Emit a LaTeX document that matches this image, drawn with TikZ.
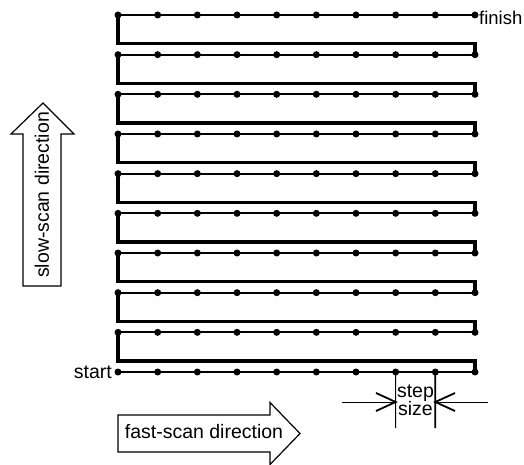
\documentclass[tikz,border=0pt]{standalone}
\usepackage{fontspec}
\setmainfont{Liberation Sans}
\begin{document}
\begin{tikzpicture}[x=1pt,y=-1pt,
  scanline/.style={line width=2pt},
  retrace/.style={line width=3.4pt, line join=miter},
  pixdot/.style={circle, fill=black, inner sep=0pt, minimum size=7pt},
  bigarrow/.style={draw=black, line width=1.2pt, fill=white, line join=miter},
  lbl/.style={font=\fontsize{19.5}{21}\selectfont, inner sep=0pt},
  thinline/.style={line width=1pt},
  wing/.style={line width=1.8pt}]
\useasboundingbox (0,0) rectangle (524,465);
% grid of sample positions
\foreach \k in {0,...,9} {
  \foreach \i in {0,...,9} {
    \coordinate (p\k-\i) at ({118+39.667*\i},{372-39.667*\k});
  }
}
% retrace paths
\foreach \k [evaluate=\k as \kn using int(\k+1)] in {0,...,8} {
  \draw[retrace] (p\k-9) -- ++(0,-11) -| (p\kn-0);
}
% scan lines and dots
\foreach \k in {0,...,9} {
  \draw[scanline] (p\k-0) -- (p\k-9);
  \foreach \i in {0,...,9} {
    \node[pixdot] (d\k-\i) at (p\k-\i) {};
  }
}
% labels start / finish
\node[lbl, anchor=base east] (start) at (112,378) {start};
\node[lbl, anchor=base west, font=\fontsize{18.5}{20}\selectfont] (finish) at (479,25) {finish};
% slow-scan arrow
\draw[bigarrow] (23,286) -- (23,134) -- (11,134) -- (43,103) -- (74,134) -- (61,134) -- (61,286) -- cycle;
\node[lbl, rotate=90] (slowtxt) at (42,195) {slow-scan direction};
% fast-scan arrow
\draw[bigarrow] (118,415) -- (270,415) -- (270,402.5) -- (300,433.5) -- (270,464.5) -- (270,452) -- (118,452) -- cycle;
\node[lbl, anchor=base] (fasttxt) at (204,438) {fast-scan direction};
% step size
\coordinate (lb) at (395.7,428);
\coordinate (rb) at (435.3,428);
\draw[thinline] (p0-7) -- (lb);
\draw[line width=1.8pt] (p0-8) -- (rb);
\coordinate (lt) at (395.7,402);
\coordinate (rt) at (435.3,402);
\coordinate (la) at (342,402);
\coordinate (ra) at (488,402);
\draw[thinline] (la) -- (lt);
\draw[thinline] (ra) -- (rt);
\coordinate (lw1) at (376,393);
\coordinate (lw2) at (376,411);
\coordinate (rw1) at (455,393);
\coordinate (rw2) at (455,411);
\draw[wing] (lw1) -- (lt) -- (lw2);
\draw[wing] (rw1) -- (rt) -- (rw2);
\node[lbl, anchor=base] (steptxt) at (415.5,397) {step};
\node[lbl, anchor=base] (sizetxt) at (415.5,415) {size};
\end{tikzpicture}
\end{document}
